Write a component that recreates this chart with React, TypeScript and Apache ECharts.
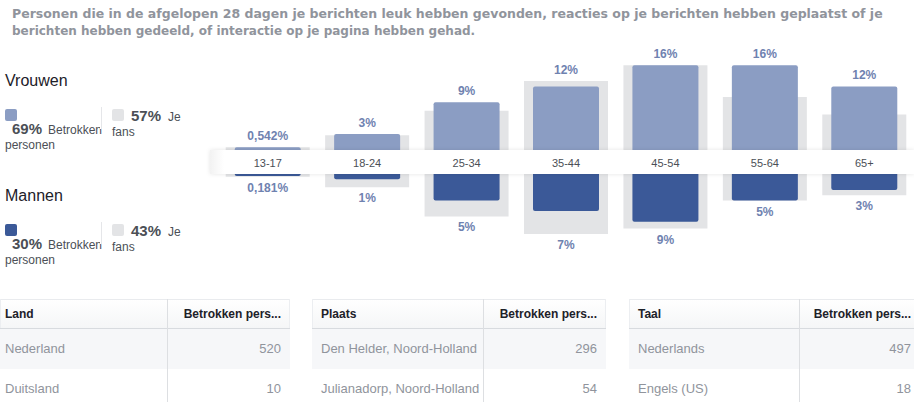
import React, { useEffect, useRef } from "react";
import * as echarts from "echarts";

const ageGroups = ["13-17", "18-24", "25-34", "35-44", "45-54", "55-64", "65+"];
const womenEngaged = [0.542, 3, 9, 12, 16, 16, 12];
const menEngaged = [0.181, 1, 5, 7, 9, 5, 3];
const womenFans = [0.5, 2.8, 7.4, 13, 16, 10, 6.7];
const menFans = [0.5, 2.5, 8, 11.3, 10.3, 5, 4];
const womenLabels = ["0,542%", "3%", "9%", "12%", "16%", "16%", "12%"];
const menLabels = ["0,181%", "1%", "5%", "7%", "9%", "5%", "3%"];

const genderNames = ["Vrouwen", "Mannen"];
const engagedShares = ["69%", "30%"];
const fanShares = ["57%", "43%"];

const titleLines = [
  "Personen die in de afgelopen 28 dagen je berichten leuk hebben gevonden, reacties op je berichten hebben geplaatst of je",
  "berichten hebben gedeeld, of interactie op je pagina hebben gehad.",
];

const tableHeaders = ["Land", "Plaats", "Taal"];
const valueHeader = "Betrokken pers...";
const countries = ["Nederland", "Duitsland"];
const countryValues = [520, 10];
const cities = ["Den Helder, Noord-Holland", "Julianadorp, Noord-Holland"];
const cityValues = [296, 54];
const languages = ["Nederlands", "Engels (US)"];
const languageValues = [497, 18];

const FONT = "'Liberation Sans', Arial, Helvetica, sans-serif";
const TITLE_FONT = "'DejaVu Sans', Verdana, sans-serif";
const LIGHT = "#8b9dc3";
const DARK = "#3b5998";
const GREY = "#e3e4e6";
const LABEL = "#6f82b0";

function legendBlock(i: number) {
  const dy = i * 115;
  const sw = i === 0 ? LIGHT : DARK;
  return [
    { type: "text", x: 5, y: 80 + dy, style: { text: genderNames[i], font: `16px ${FONT}`, fill: "#1d2129", verticalAlign: "middle" } },
    { type: "rect", x: 5, y: 109 + dy, shape: { width: 12, height: 12, r: 2 }, style: { fill: sw } },
    { type: "text", x: 12, y: 128.5 + dy, style: { text: engagedShares[i], font: `bold 15px ${FONT}`, fill: "#4b4f56", verticalAlign: "middle" } },
    { type: "text", x: 48, y: 130 + dy, style: { text: "Betrokken", font: `12px ${FONT}`, fill: "#4b4f56", verticalAlign: "middle" } },
    { type: "text", x: 5, y: 145 + dy, style: { text: "personen", font: `12px ${FONT}`, fill: "#4b4f56", verticalAlign: "middle" } },
    { type: "rect", x: 100, y: 107 + dy, shape: { width: 2, height: 22 }, style: { fill: "#ffffff" }, z: 3 },
    { type: "line", shape: { x1: 101.5, y1: 107 + dy, x2: 101.5, y2: 129 + dy }, style: { stroke: "#e5e6e9", lineWidth: 1 }, z: 4 },
    { type: "rect", x: 112, y: 109 + dy, shape: { width: 12, height: 12, r: 2 }, style: { fill: GREY } },
    { type: "text", x: 131, y: 115.5 + dy, style: { text: fanShares[i], font: `bold 15px ${FONT}`, fill: "#4b4f56", verticalAlign: "middle" } },
    { type: "text", x: 168, y: 117 + dy, style: { text: "Je", font: `12px ${FONT}`, fill: "#4b4f56", verticalAlign: "middle" } },
    { type: "text", x: 112, y: 132 + dy, style: { text: "fans", font: `12px ${FONT}`, fill: "#4b4f56", verticalAlign: "middle" } },
  ];
}

function tableBlock(x0: number, w: number, div: number, pad: number, header: string, names: string[], values: number[]) {
  const els: any[] = [];
  els.push({
    type: "rect", x: x0, y: 299, shape: { width: w, height: 29 },
    style: { fill: new echarts.graphic.LinearGradient(0, 0, 0, 1, [{ offset: 0, color: "#ffffff" }, { offset: 1, color: "#f5f6f7" }]) },
  });
  els.push({ type: "rect", x: x0, y: 328, shape: { width: w, height: 41 }, style: { fill: "#f6f7f9" } });
  els.push({ type: "line", shape: { x1: x0, y1: 299.5, x2: x0 + w, y2: 299.5 }, style: { stroke: "#e9ebee", lineWidth: 1 } });
  els.push({ type: "line", shape: { x1: x0, y1: 328.5, x2: x0 + w, y2: 328.5 }, style: { stroke: "#d8dbdf", lineWidth: 1 } });
  els.push({ type: "line", shape: { x1: x0 + 0.5, y1: 299, x2: x0 + 0.5, y2: 328 }, style: { stroke: "#eceef1", lineWidth: 1 } });
  els.push({ type: "line", shape: { x1: x0 + w - 0.5, y1: 299, x2: x0 + w - 0.5, y2: 328 }, style: { stroke: "#eceef1", lineWidth: 1 } });
  els.push({ type: "line", shape: { x1: div + 0.5, y1: 299, x2: div + 0.5, y2: 402 }, style: { stroke: "#dddfe2", lineWidth: 1 } });
  els.push({ type: "text", x: x0 + pad, y: 314, style: { text: header, font: `bold 12px ${FONT}`, fill: "#1d2129", verticalAlign: "middle" } });
  els.push({ type: "text", x: x0 + w - 9, y: 314, style: { text: valueHeader, font: `bold 12px ${FONT}`, fill: "#1d2129", verticalAlign: "middle", align: "right" } });
  names.forEach((n, k) => {
    const y = 348 + k * 40;
    els.push({ type: "text", x: x0 + pad, y, style: { text: n, font: `13px ${FONT}`, fill: "#90949c", verticalAlign: "middle" } });
    els.push({ type: "text", x: x0 + w - 9, y, style: { text: String(values[k]), font: `13px ${FONT}`, fill: "#90949c", verticalAlign: "middle", align: "right" } });
  });
  return els;
}

export default function App() {
  const ref = useRef<HTMLDivElement>(null);
  useEffect(() => {
    document.body.style.margin = "0";
    const chart = echarts.init(ref.current!, undefined, { renderer: "svg" });
    const womenMax = womenEngaged.map((v, i) => Math.max(v, womenFans[i]));
    const menMax = menEngaged.map((v, i) => Math.max(v, menFans[i]));
    const hiddenX = (g: number) => ({ type: "category", gridIndex: g, data: ageGroups, show: false });
    const option: any = {
      animation: false,
      backgroundColor: "#ffffff",
      grid: [
        { left: 218, right: 0, top: 44, height: 106 },
        { left: 218, right: 0, top: 174, height: 106 },
      ],
      xAxis: [
        hiddenX(0),
        hiddenX(0),
        {
          type: "category", gridIndex: 1, data: ageGroups, position: "top", z: 30,
          axisLine: { show: false }, axisTick: { show: false },
          axisLabel: { margin: 6, fontSize: 11, color: "#4b4f56", fontFamily: FONT },
        },
        hiddenX(1),
      ],
      yAxis: [
        { type: "value", gridIndex: 0, min: 0, max: 20, show: false },
        { type: "value", gridIndex: 1, min: 0, max: 20, inverse: true, show: false },
      ],
      series: [
        { type: "bar", xAxisIndex: 1, yAxisIndex: 0, data: womenFans, barWidth: 84, itemStyle: { color: GREY }, z: 1, silent: true },
        {
          type: "bar", xAxisIndex: 1, yAxisIndex: 0, data: womenMax, barWidth: 84, barGap: "-100%", itemStyle: { color: "transparent" }, z: 1, silent: true,
          label: { show: true, position: "top", distance: 5, formatter: (p: any) => womenLabels[p.dataIndex], color: LABEL, fontWeight: "bold", fontSize: 12, fontFamily: FONT },
        },
        { type: "bar", xAxisIndex: 0, yAxisIndex: 0, data: womenEngaged, barWidth: 66, itemStyle: { color: LIGHT, borderRadius: [2, 2, 0, 0] }, z: 2, silent: true },
        { type: "bar", xAxisIndex: 3, yAxisIndex: 1, data: menFans, barWidth: 84, itemStyle: { color: GREY }, z: 1, silent: true },
        {
          type: "bar", xAxisIndex: 3, yAxisIndex: 1, data: menMax, barWidth: 84, barGap: "-100%", itemStyle: { color: "transparent" }, z: 1, silent: true,
          label: { show: true, position: "bottom", distance: 5, formatter: (p: any) => menLabels[p.dataIndex], color: LABEL, fontWeight: "bold", fontSize: 12, fontFamily: FONT },
        },
        { type: "bar", xAxisIndex: 2, yAxisIndex: 1, data: menEngaged, barWidth: 66, barMinHeight: 2, itemStyle: { color: DARK, borderRadius: [0, 0, 2, 2] }, z: 2, silent: true },
      ],
      graphic: [
        { type: "text", x: 12, y: 13, style: { text: titleLines[0], font: `bold 12.5px ${TITLE_FONT}`, fill: "#90949c", verticalAlign: "middle" } },
        { type: "text", x: 12, y: 31, style: { text: titleLines[1], font: `bold 12px ${TITLE_FONT}`, fill: "#90949c", verticalAlign: "middle" } },
        {
          type: "rect", x: 210, y: 150, z: 20, shape: { width: 704, height: 24 },
          style: {
            fill: new echarts.graphic.LinearGradient(0, 0, 1, 0, [
              { offset: 0, color: "#f2f2f2" }, { offset: 0.02, color: "#ffffff" }, { offset: 1, color: "#ffffff" },
            ]),
            shadowBlur: 4, shadowColor: "rgba(0,0,0,0.10)",
          },
        },
        ...legendBlock(0),
        ...legendBlock(1),
        ...tableBlock(0, 290, 167, 5, tableHeaders[0], countries, countryValues),
        ...tableBlock(312, 294, 483, 9, tableHeaders[1], cities, cityValues),
        ...tableBlock(629, 291, 799, 9, tableHeaders[2], languages, languageValues),
      ],
    };
    chart.setOption(option);
    return () => chart.dispose();
  }, []);
  return <div ref={ref} style={{ width: 914, height: 402 }} />;
}
